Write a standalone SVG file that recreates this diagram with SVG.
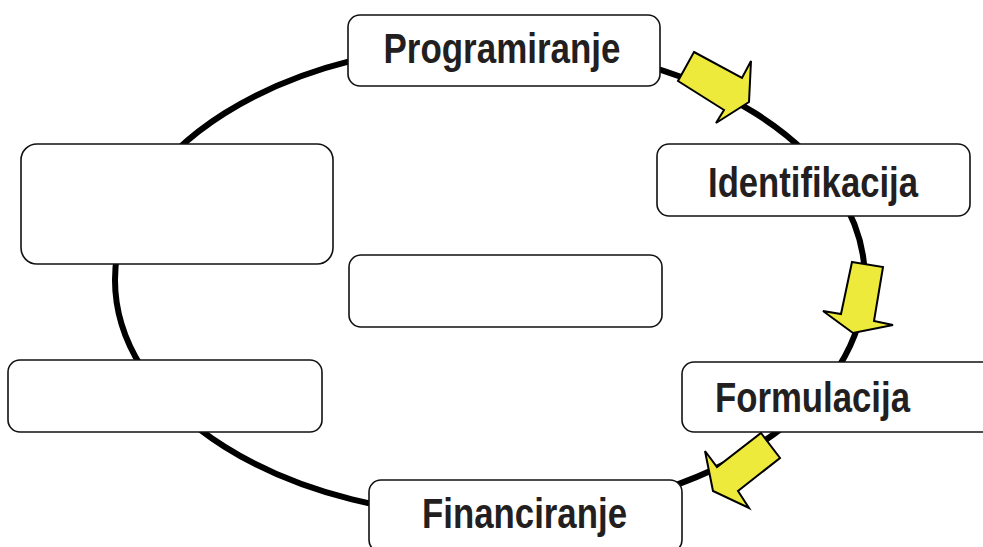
<svg xmlns="http://www.w3.org/2000/svg" width="983" height="547" viewBox="0 0 983 547">
<style>
.box{fill:#fff;stroke:#111;stroke-width:1.6}
.lbl{font-family:"Liberation Sans",Arial,sans-serif;font-weight:bold;font-size:42px;fill:#231f20;text-anchor:middle}
.arr{fill:#eeea3c;stroke:#000;stroke-width:2;stroke-linejoin:miter}
</style>
<rect width="983" height="547" fill="#fff"/>
<g id="connectors">
<ellipse cx="490" cy="280" rx="375" ry="236" fill="none" stroke="#000" stroke-width="6"/>
<polygon class="arr" points="694,52 742,78 751,61 749,102 716,123 724,110 678,81"/>
<polygon class="arr" points="852,262 883,267 874,321 893,325 853,333 823,311 841,314"/>
<polygon class="arr" points="761,433 780,458 738,491 749,508 713,491 705,451 717,467"/>
</g>
<g id="programiranje">
<rect class="box" x="348" y="15" width="312" height="71" rx="12"/>
<text class="lbl" x="502" y="63" textLength="237" lengthAdjust="spacingAndGlyphs">Programiranje</text>
</g>
<g id="identifikacija">
<rect class="box" x="657" y="144" width="313" height="72" rx="12"/>
<text class="lbl" x="813" y="197" textLength="210" lengthAdjust="spacingAndGlyphs">Identifikacija</text>
</g>
<g id="formulacija">
<rect class="box" x="682" y="362" width="313" height="70" rx="12"/>
<text class="lbl" x="812.5" y="412" textLength="195" lengthAdjust="spacingAndGlyphs">Formulacija</text>
</g>
<g id="financiranje">
<rect class="box" x="369" y="480" width="313" height="72" rx="12"/>
<text class="lbl" x="524.5" y="528" textLength="205" lengthAdjust="spacingAndGlyphs">Financiranje</text>
</g>
<g id="empty-top-left">
<rect class="box" x="21" y="144" width="312" height="120" rx="16"/>
</g>
<g id="empty-middle">
<rect class="box" x="349" y="255" width="313" height="72" rx="12"/>
</g>
<g id="empty-bottom-left">
<rect class="box" x="8" y="360" width="314" height="72" rx="12"/>
</g>
</svg>
